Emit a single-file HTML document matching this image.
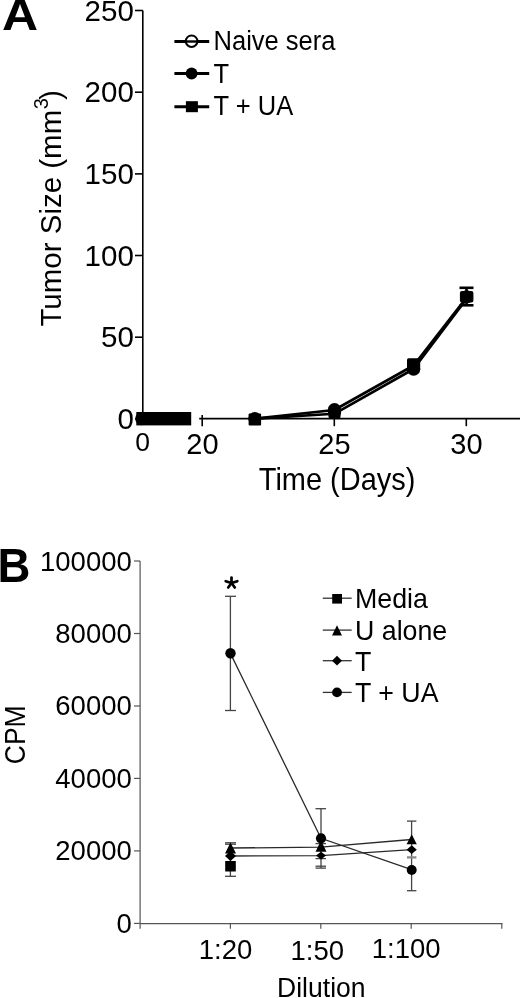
<!DOCTYPE html>
<html>
<head>
<meta charset="utf-8">
<style>
html,body{margin:0;padding:0;background:#fff;width:520px;height:998px;overflow:hidden;}
svg{display:block;will-change:transform;}
text{font-family:"Liberation Sans",sans-serif;fill:#000;}
</style>
</head>
<body>
<svg width="520" height="998" viewBox="0 0 520 998">
<!-- ============ PANEL A ============ -->
<text transform="translate(2,29.7) scale(1,0.88)" font-size="50" font-weight="bold">A</text>

<!-- y axis -->
<g stroke="#000" stroke-width="1.6" fill="none">
  <line x1="142.8" y1="10.5" x2="142.8" y2="425"/>
  <line x1="135" y1="10.5" x2="142.8" y2="10.5"/>
  <line x1="135" y1="92.2" x2="142.8" y2="92.2"/>
  <line x1="135" y1="173.9" x2="142.8" y2="173.9"/>
  <line x1="135" y1="255.5" x2="142.8" y2="255.5"/>
  <line x1="135" y1="337.2" x2="142.8" y2="337.2"/>
  <line x1="135" y1="418.8" x2="142.8" y2="418.8"/>
  <!-- x axis -->
  <line x1="142.8" y1="418.8" x2="190" y2="418.8"/>
  <line x1="199.2" y1="418.6" x2="520" y2="418.6"/>
  <line x1="202.2" y1="415" x2="202.2" y2="426.2"/>
  <line x1="334.3" y1="418.6" x2="334.3" y2="426.2"/>
  <line x1="466.3" y1="418.6" x2="466.3" y2="426.2"/>
</g>
<g font-size="29.5" text-anchor="end">
  <text x="133.8" y="21.2">250</text>
  <text x="133.8" y="102.4">200</text>
  <text x="133.8" y="184.1">150</text>
  <text x="133.8" y="265.7">100</text>
  <text x="133.8" y="347.4">50</text>
  <text x="133.8" y="429">0</text>
</g>
<g font-size="29" text-anchor="middle">
  <text x="142.7" y="451" font-size="26.5">0</text>
  <text x="202.5" y="454">20</text>
  <text x="334.5" y="454">25</text>
  <text x="466.5" y="454">30</text>
</g>
<text transform="translate(337.1,489.9) scale(0.935,1)" font-size="31" text-anchor="middle">Time (Days)</text>
<text transform="translate(61.3,326.6) rotate(-90) scale(1,1.03)" font-size="29.5">Tumor Size (mm<tspan font-size="20" dx="0.5" dy="-12.8">3</tspan><tspan dx="-1.8" dy="12.8">)</tspan></text>

<!-- data A -->
<rect x="136.3" y="412" width="54.9" height="13.4" fill="#000"/>
<circle cx="141.8" cy="418.7" r="6.6" fill="#000"/>
<g stroke="#000" stroke-width="2.6" fill="none" stroke-linejoin="round">
  <polyline points="255.3,418.6 334.3,410 413.6,365.5 466.5,297.5"/>
  <polyline points="255.3,418.6 334.3,413.8 413.6,369 466.5,299"/>
</g>
<g fill="#000">
  <rect x="248.6" y="413.4" width="12.5" height="12" rx="1"/>
  <circle cx="254.8" cy="418.6" r="6.5"/>
  <circle cx="334.5" cy="409.7" r="6.6"/>
  <circle cx="334.5" cy="412.4" r="6.6"/>
  <rect x="328.5" y="406" width="12" height="12.8" rx="2"/>
  <rect x="407" y="358.3" width="13.2" height="12.8" rx="1.5"/>
  <circle cx="413.6" cy="369" r="6.7"/>
  <rect x="459.9" y="291" width="13.5" height="11.6" rx="2"/>
  <circle cx="466.6" cy="296.8" r="6.6"/>
</g>
<g stroke="#000" stroke-width="2.6">
  <line x1="459.5" y1="287.8" x2="473.5" y2="287.8"/>
  <line x1="459.5" y1="305.3" x2="473.5" y2="305.3"/>
  <line x1="466.5" y1="287.7" x2="466.5" y2="305.7"/>
</g>

<!-- legend A -->
<g stroke="#000" stroke-width="3">
  <line x1="174.4" y1="41.5" x2="209.2" y2="41.5"/>
  <line x1="174.4" y1="73.5" x2="209.2" y2="73.5"/>
  <line x1="174.4" y1="106.7" x2="209.2" y2="106.7"/>
</g>
<circle cx="191.6" cy="41.2" r="5.8" fill="#fff" stroke="#000" stroke-width="2"/>
<line x1="185.8" y1="41.5" x2="197.4" y2="41.5" stroke="#000" stroke-width="2.4"/>
<circle cx="191.6" cy="73.5" r="5.9" fill="#000"/>
<rect x="185.9" y="101.2" width="12" height="11" fill="#000"/>
<g font-size="27">
  <text transform="translate(213.6,49.8) scale(0.945,1)">Naive sera</text>
  <text transform="translate(213.6,83) scale(0.945,1)">T</text>
  <text transform="translate(213.6,115.4) scale(0.945,1)">T + UA</text>
</g>

<!-- ============ PANEL B ============ -->
<text transform="translate(-2.4,582.3) scale(0.93,1)" font-size="49" font-weight="bold">B</text>
<g stroke="#555" stroke-width="1.2" fill="none">
  <line x1="140.1" y1="561" x2="140.1" y2="928.8"/>
  <line x1="134" y1="561" x2="140.1" y2="561"/>
  <line x1="134" y1="633.5" x2="140.1" y2="633.5"/>
  <line x1="134" y1="706" x2="140.1" y2="706"/>
  <line x1="134" y1="778.4" x2="140.1" y2="778.4"/>
  <line x1="134" y1="850.9" x2="140.1" y2="850.9"/>
  <line x1="134" y1="923.4" x2="140.1" y2="923.4"/>
  <line x1="140.1" y1="923.6" x2="502.5" y2="923.6"/>
  <line x1="230.4" y1="923.6" x2="230.4" y2="928.8"/>
  <line x1="320.8" y1="923.6" x2="320.8" y2="928.8"/>
  <line x1="411.2" y1="923.6" x2="411.2" y2="928.8"/>
  <line x1="501.8" y1="923.6" x2="501.8" y2="928.8"/>
</g>
<g font-size="27.5" text-anchor="end">
  <text x="131.8" y="570.5">100000</text>
  <text x="131.8" y="642.9">80000</text>
  <text x="131.8" y="715.4">60000</text>
  <text x="131.8" y="787.8">40000</text>
  <text x="131.8" y="860.3">20000</text>
  <text x="131.8" y="932.7">0</text>
</g>
<g font-size="27.5" text-anchor="middle">
  <text x="225.5" y="958.8">1:20</text>
  <text x="317.3" y="959.8">1:50</text>
  <text x="406.2" y="958">1:100</text>
</g>
<text transform="translate(321.3,997.4) scale(0.955,1)" font-size="27.8" text-anchor="middle">Dilution</text>
<text transform="translate(25.4,734.8) rotate(-90) scale(1,1.08)" font-size="26.5" text-anchor="middle">CPM</text>
<g stroke="#000" stroke-width="2.7" stroke-linecap="round">
  <line x1="231.5" y1="583" x2="231.5" y2="577.5"/>
  <line x1="231.5" y1="583" x2="225.7" y2="581.2"/>
  <line x1="231.5" y1="583" x2="237.3" y2="581.2"/>
  <line x1="231.5" y1="583" x2="228.2" y2="587.5"/>
  <line x1="231.5" y1="583" x2="234.8" y2="587.5"/>
</g>

<!-- data B -->
<g stroke="#444" stroke-width="1.3" fill="none">
  <!-- error bars -->
  <line x1="230.4" y1="596.3" x2="230.4" y2="710.5"/>
  <line x1="225" y1="596.3" x2="236" y2="596.3"/>
  <line x1="225" y1="710.5" x2="236" y2="710.5"/>
  <line x1="230.4" y1="843" x2="230.4" y2="876.3"/>
  <line x1="225" y1="842.8" x2="236" y2="842.8"/>
  <line x1="225" y1="844.2" x2="236" y2="844.2"/>
  <line x1="225" y1="876.3" x2="236" y2="876.3"/>
  <line x1="321" y1="808.7" x2="321" y2="868"/>
  <line x1="315.5" y1="808.7" x2="326" y2="808.7"/>
  <line x1="315.5" y1="866.2" x2="326" y2="866.2"/>
  <line x1="315.5" y1="868.1" x2="326" y2="868.1"/>
  <line x1="315.5" y1="843.6" x2="326" y2="843.6"/>
  <line x1="315.5" y1="858.6" x2="326" y2="858.6"/>
  <line x1="411.6" y1="821.1" x2="411.6" y2="890.7"/>
  <line x1="407" y1="821.1" x2="416.4" y2="821.1"/>
  <line x1="407" y1="890.7" x2="416.4" y2="890.7"/>
  <line x1="407" y1="857.4" x2="416.4" y2="857.4" stroke="#8a8a8a" stroke-width="2.3"/>
</g>
<g stroke="#2a2a2a" stroke-width="1.3" fill="none">
  <polyline points="230.4,653.4 321,838.3 411.6,869.7"/>
  <polyline points="230.4,848 321,847.2 411.6,839.5"/>
  <polyline points="230.4,856 321,855.6 411.6,849.6"/>
</g>
<g fill="#000">
  <circle cx="230.5" cy="653.3" r="5.2"/>
  <rect x="225.2" y="861" width="10.6" height="10.5"/>
  <polygon points="230.5,856 236,861 230.5,866 225,861" transform="translate(0,-5)"/>
  <polygon points="230.5,842.5 236,853.6 225,853.6"/>
  <circle cx="321" cy="838.3" r="5.1"/>
  <polygon points="321,840.5 326.5,851.8 315.5,851.8"/>
  <polygon points="321,851.7 326,855.6 321,859.5 316,855.6"/>
  <polygon points="411.7,834.2 416.8,844.3 406.6,844.3"/>
  <polygon points="411.7,845.3 416.8,849.7 411.7,854.1 406.6,849.7"/>
  <circle cx="411.7" cy="870" r="5"/>
</g>

<!-- legend B -->
<g stroke="#333" stroke-width="1.3">
  <line x1="322.8" y1="598.2" x2="351.7" y2="598.2"/>
  <line x1="322.8" y1="630.1" x2="351.7" y2="630.1"/>
  <line x1="322.8" y1="660.7" x2="351.7" y2="660.7"/>
  <line x1="322.8" y1="692.4" x2="351.7" y2="692.4"/>
</g>
<g fill="#000">
  <rect x="332.2" y="594" width="9.8" height="9.6"/>
  <polygon points="337,625.3 342,635.5 332,635.5"/>
  <polygon points="337,655.7 342,660.7 337,665.6 332,660.7"/>
  <circle cx="337" cy="692.4" r="4.9"/>
</g>
<g font-size="28">
  <text transform="translate(355,607.8) scale(0.956,1)">Media</text>
  <text transform="translate(355,639.7) scale(0.956,1)">U alone</text>
  <text transform="translate(355,670.5) scale(0.956,1)">T</text>
  <text transform="translate(355,701.6) scale(0.956,1)">T + UA</text>
</g>
</svg>
</body>
</html>
